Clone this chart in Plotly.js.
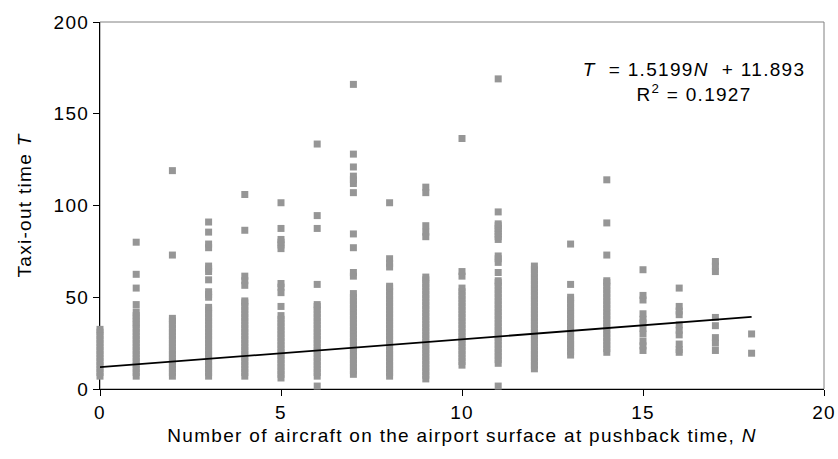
<!DOCTYPE html>
<html><head><meta charset="utf-8">
<script src="https://cdn.plot.ly/plotly-3.0.1.min.js"></script>
<style>
html,body{margin:0;padding:0;background:#fff}
#chart{width:838px;height:459px}
.main-svg text{letter-spacing:1.3px}
</style></head><body><div id="chart"></div>
<script>
// Taxi-out time T observed for each value of N (aircraft on surface)
const nValues = [0,1,2,3,4,5,6,7,8,9,10,11,12,13,14,15,16,17,18];
const col0 = [7,9,11,13,15,17,19,21,23,25,27,29,31,32.5];
const col1 = [7,9,11,13,15,17,19,21,23,25,27,29,31,33,35,36.5,38.5,40,42,46,55,62.5,80];
const col2 = [7,9,11,13,15,17,19,21,23,25,27,29,31,33,35,37,38.5,73,119];
const col3 = [7,9,11,13,15,17,19,21,23,25,27,29,31,33,35,37,39,41,43,44.5,50,51.5,53,59.5,64,65.5,67,77,79,85.5,91];
const col4 = [7,9,11,13,15,17,19,21,23,25,27,29,31,33,35,37,39,41,43,45,47,48,56.5,59,61.5,86.5,106];
const col5 = [6,8,10,12,14,16,18,20,22,24,26,28,30,32,34,36,38,40,45,52.5,55.5,57.5,76.5,78.5,80,81.5,87.5,101.5];
const col6 = [1.6,7,9,11,13,15,17,19,21,23,25,27,29,31,33,35,37,39,41,43,45,46,57,87.5,94.5,133.5];
const col7 = [8,10,12,14,16,18,20,22,24,26,28,30,32,34,36,38,40,42,44,46,48,50,52,61.5,63.5,77,84.5,107,112,114,116,121,128,166];
const col8 = [7,9,11,13,15,17,19,21,23,25,27,29,31,33,35,37,39,41,43,45,47,49,51,53,55,56,66.5,68.5,71,101.5];
const col9 = [5.5,7.5,9.5,11.5,13.5,15.5,17.5,19.5,21.5,23.5,25.5,27.5,29.5,31.5,33.5,35.5,37.5,39.5,41.5,43.5,45.5,47.5,49.5,51.5,53.5,55.5,57.5,59.5,61,83,85.5,89,107,110];
const col10 = [13,15,17,19,21,23,25,27,29,31,33,35,37,39,41,43,45,47,49,51,53,55,61.5,64,136.5];
const col11 = [1.6,14,16,18,20,22,24,26,28,30,32,34,36,38,40,42,44,46,48,50,52,54,56,58,59,63.5,69,71,72.5,81.5,83,84.5,86,87.5,89,90,96.5,169];
const col12 = [11,13,15,17,19,21,23,25,27,29,31,33,35,37,39,41,43,45,47,49,51,53,55,57,59,61,63,65,67];
const col13 = [18.5,20.5,22.5,24.5,26.5,28.5,30.5,32.5,34.5,36.5,38.5,40.5,42.5,44.5,46.5,48.5,50,57,79];
const col14 = [20,22,24,26,28,30,32,34,36,38,40,42,44,46,48,50,52,54,56,58,59,73,90.5,114];
const col15 = [21,23.5,26,30,33,36,38,41,48.5,51,65];
const col16 = [20,21.5,24.5,29.5,32,35,40.5,42.5,45,55];
const col17 = [21,25,28,34.5,39,64,67,69.5];
const col18 = [19.5,30];
const columns = [col0,col1,col2,col3,col4,col5,col6,col7,col8,col9,col10,col11,col12,col13,col14,col15,col16,col17,col18];

// Linear trend line reported in the chart
const slope = 1.5199, intercept = 11.893;
const trendN = [0, 18];

const xs = [], ys = [];
columns.forEach((c, i) => c.forEach(v => { xs.push(nValues[i]); ys.push(v); }));

const FONT = 'Liberation Sans, Arial, sans-serif';
const fnt = {family: FONT, size: 19, color: '#000'};

const traces = [
  {x: xs, y: ys, type: 'scatter', mode: 'markers', cliponaxis: false,
   marker: {symbol: 'square', size: 7, color: '#969696', line: {width: 0}}, hoverinfo: 'none'},
  {x: trendN, y: trendN.map(n => slope * n + intercept), type: 'scatter', mode: 'lines',
   line: {color: '#000', width: 1.8}, hoverinfo: 'none'}
];

const layout = {
  width: 838, height: 459,
  margin: {l: 100, r: 14, t: 22, b: 70, pad: 0},
  paper_bgcolor: '#fff', plot_bgcolor: '#fff',
  showlegend: false,
  font: fnt,
  xaxis: {range: [0, 20], tick0: 0, dtick: 5, ticks: 'outside', ticklen: 6, tickwidth: 1, tickcolor: '#000',
    showline: true, linecolor: '#000', linewidth: 1, showgrid: false, zeroline: false, layer: 'below traces',
    tickfont: fnt, automargin: false,
    title: {text: 'Number of aircraft on the airport surface at pushback time, <i>N</i>', font: fnt, standoff: 6}},
  yaxis: {range: [0, 200], tick0: 0, dtick: 50, ticks: 'outside', ticklen: 6, tickwidth: 1, tickcolor: '#000',
    showline: true, linecolor: '#000', linewidth: 1, showgrid: false, zeroline: false, layer: 'below traces',
    tickfont: fnt, automargin: false,
    title: {text: 'Taxi-out time <i>T</i>', font: fnt, standoff: 20}},
  shapes: [{type: 'rect', xref: 'paper', yref: 'paper', x0: 0, x1: 1, y0: 0, y1: 1,
    line: {color: '#808080', width: 1}, layer: 'below'}],
  annotations: [{xref: 'x', yref: 'y', x: 16.4, y: 167.5, xanchor: 'center', yanchor: 'middle',
    align: 'center', showarrow: false, font: fnt,
    text: '<i>T</i>  = 1.5199<i>N</i>  + 11.893<br>R<sup>2</sup> = 0.1927'}]
};

Plotly.newPlot('chart', traces, layout, {staticPlot: true, displayModeBar: false});
</script></body></html>
